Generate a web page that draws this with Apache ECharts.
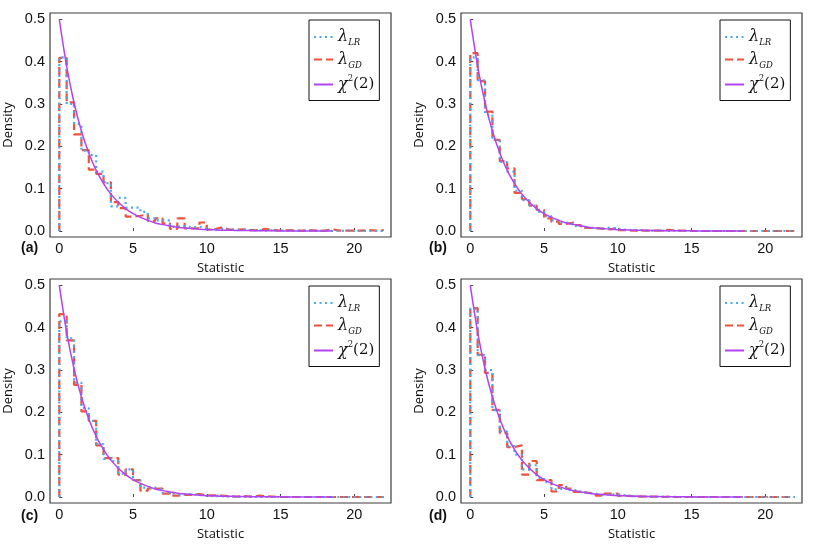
<!DOCTYPE html>
<html>
<head>
<meta charset="utf-8">
<script src="https://cdn.jsdelivr.net/npm/echarts@6/dist/echarts.min.js"></script>
<style>
html, body { margin: 0; padding: 0; background: #fff; }
#chart { width: 830px; height: 560px; }
</style>
</head>
<body>
<div id="chart"></div>
<script>
// histogram bins are 0.5 wide, starting at 0 (44 bins up to 22)
var binWidth = 0.5;
var xTicks = [0, 5, 10, 15, 20];
var yTicks = [0, 0.1, 0.2, 0.3, 0.4, 0.5];
var panelLabels = ["(a)", "(b)", "(c)", "(d)"];

// chi-square(2) density, sampled every 0.5 from 0 to 18.5
var chiDensity = [
    0.500, 0.389, 0.303, 0.236, 0.184, 0.143, 0.112, 0.087, 0.068, 0.053,
    0.041, 0.032, 0.025, 0.019, 0.015, 0.012, 0.009, 0.007, 0.006, 0.004,
    0.003, 0.003, 0.002, 0.002, 0.001, 0.001, 0.0008, 0.0006, 0.0005, 0.0004,
    0.0003, 0.0002, 0.0002, 0.0001, 0.0001, 0.0001, 0.0001, 0.0
];

var lrA = [
    0.410, 0.300, 0.253, 0.190, 0.180, 0.140, 0.113, 0.058, 0.078, 0.055,
    0.055, 0.045, 0.030, 0.025, 0.025, 0.010, 0.012, 0.008, 0.010, 0.006,
    0.002, 0.005, 0.004, 0.002, 0.003, 0.002, 0.002, 0.001, 0.002, 0.001,
    0.001, 0.001, 0.001, 0.001, 0.000, 0.001, 0.000, 0.000, 0.001, 0.000,
    0.000, 0.000, 0.000, 0.000
];
var gdA = [
    0.409, 0.304, 0.228, 0.191, 0.145, 0.135, 0.115, 0.068, 0.054, 0.034,
    0.036, 0.039, 0.024, 0.030, 0.018, 0.005, 0.030, 0.006, 0.006, 0.020,
    0.004, 0.008, 0.004, 0.003, 0.004, 0.002, 0.002, 0.005, 0.002, 0.001,
    0.002, 0.001, 0.001, 0.002, 0.001, 0.001, 0.004, 0.001, 0.001, 0.001,
    0.001, 0.002, 0.001, 0.002
];
var lrB = [
    0.410, 0.356, 0.275, 0.215, 0.163, 0.140, 0.095, 0.073, 0.060, 0.045,
    0.035, 0.025, 0.020, 0.017, 0.012, 0.008, 0.007, 0.006, 0.008, 0.005,
    0.003, 0.002, 0.002, 0.001, 0.001, 0.001, 0.000, 0.001, 0.000, 0.000,
    0.000, 0.000, 0.000, 0.000, 0.000, 0.000, 0.000, 0.000, 0.000, 0.000,
    0.000, 0.000, 0.000, 0.000
];
var gdB = [
    0.420, 0.354, 0.282, 0.215, 0.165, 0.148, 0.090, 0.075, 0.060, 0.050,
    0.030, 0.022, 0.017, 0.020, 0.014, 0.007, 0.007, 0.005, 0.004, 0.007,
    0.002, 0.001, 0.001, 0.001, 0.001, 0.001, 0.003, 0.001, 0.001, 0.000,
    0.000, 0.000, 0.000, 0.000, 0.000, 0.000, 0.000, 0.000, 0.000, 0.000,
    0.000, 0.000, 0.000, 0.000
];
var lrC = [
    0.415, 0.375, 0.270, 0.210, 0.180, 0.125, 0.090, 0.085, 0.055, 0.065,
    0.040, 0.022, 0.022, 0.018, 0.010, 0.006, 0.006, 0.006, 0.005, 0.003,
    0.002, 0.002, 0.001, 0.001, 0.000, 0.001, 0.000, 0.000, 0.000, 0.000,
    0.000, 0.000, 0.000, 0.000, 0.000, 0.000, 0.000, 0.000, 0.000, 0.000,
    0.000, 0.000, 0.000, 0.000
];
var gdC = [
    0.432, 0.370, 0.265, 0.202, 0.180, 0.122, 0.092, 0.092, 0.053, 0.065,
    0.040, 0.015, 0.020, 0.020, 0.008, 0.003, 0.005, 0.005, 0.007, 0.004,
    0.004, 0.003, 0.002, 0.001, 0.002, 0.001, 0.003, 0.002, 0.001, 0.000,
    0.000, 0.000, 0.000, 0.000, 0.000, 0.000, 0.000, 0.000, 0.000, 0.000,
    0.000, 0.000, 0.000, 0.000
];
var lrD = [
    0.445, 0.335, 0.300, 0.205, 0.155, 0.120, 0.100, 0.065, 0.075, 0.045,
    0.035, 0.018, 0.022, 0.017, 0.013, 0.010, 0.008, 0.005, 0.006, 0.006,
    0.004, 0.002, 0.001, 0.001, 0.000, 0.001, 0.000, 0.000, 0.000, 0.000,
    0.000, 0.000, 0.000, 0.000, 0.000, 0.000, 0.000, 0.000, 0.000, 0.000,
    0.000, 0.000, 0.000, 0.000
];
var gdD = [
    0.446, 0.336, 0.293, 0.206, 0.151, 0.118, 0.122, 0.053, 0.085, 0.040,
    0.040, 0.013, 0.028, 0.020, 0.012, 0.010, 0.008, 0.003, 0.008, 0.008,
    0.003, 0.002, 0.001, 0.001, 0.001, 0.000, 0.001, 0.000, 0.000, 0.000,
    0.000, 0.000, 0.000, 0.000, 0.000, 0.000, 0.000, 0.000, 0.000, 0.000,
    0.000, 0.000, 0.000, 0.000
];

var lrSets = [lrA, lrB, lrC, lrD];
var gdSets = [gdA, gdB, gdC, gdD];

var colLR = "#4aa9ee";
var colGD = "#ee533a";
var colChi = "#b243f2";

// step points at bin left edges, closed at the last right edge
var stepData = function(h) {
    var d = [[0, 0]];
    h.forEach(function(v, i) {
        d.push([i * binWidth, v]);
    });
    d.push([h.length * binWidth, h[h.length - 1]]);
    return d;
};
var chiData = chiDensity.map(function(v, i) {
    return [i * binWidth, v];
});

var panels = [
    { left: 50, top: 13, lx: 21, ly: 241 },
    { left: 461, top: 13, lx: 429, ly: 241 },
    { left: 50, top: 279, lx: 21, ly: 509 },
    { left: 461, top: 279, lx: 429, ly: 509 }
];

var tickFont = { fontFamily: "Liberation Sans", fontSize: 14.5, color: "#111" };
var nameFont = { fontFamily: "Open Sans", fontSize: 13, color: "#111" };

var grids = [], xAxes = [], yAxes = [], series = [], legends = [], titles = [];

panels.forEach(function(p, k) {
    grids.push({
        left: p.left,
        top: p.top,
        width: 341,
        height: 224,
        show: true,
        borderColor: "#3c3c3c",
        borderWidth: 1.2,
        backgroundColor: "transparent"
    });
    xAxes.push({
        type: "value",
        gridIndex: k,
        min: -0.63,
        max: 22.49,
        name: "Statistic",
        nameLocation: "middle",
        nameGap: 25,
        nameTextStyle: nameFont,
        axisLine: { show: false },
        splitLine: { show: false },
        axisTick: {
            show: true,
            inside: true,
            length: 3,
            customValues: xTicks,
            lineStyle: { color: "#444" }
        },
        axisLabel: Object.assign({ margin: 4, customValues: xTicks }, tickFont)
    });
    yAxes.push({
        type: "value",
        gridIndex: k,
        min: -0.0142,
        max: 0.5149,
        name: "Density",
        nameLocation: "middle",
        nameGap: 35,
        nameTextStyle: nameFont,
        axisLine: { show: false },
        splitLine: { show: false },
        axisTick: {
            show: true,
            inside: true,
            length: 3,
            customValues: yTicks,
            lineStyle: { color: "#444" }
        },
        axisLabel: Object.assign({
            margin: 5,
            customValues: yTicks,
            formatter: function(v) { return v.toFixed(1); }
        }, tickFont)
    });
    series.push({
        name: "GD",
        type: "line",
        xAxisIndex: k,
        yAxisIndex: k,
        step: "end",
        symbol: "none",
        data: stepData(gdSets[k]),
        lineStyle: { color: colGD, width: 2.2, type: [8, 4] },
        itemStyle: { color: colGD },
        z: 2
    });
    series.push({
        name: "LR",
        type: "line",
        xAxisIndex: k,
        yAxisIndex: k,
        step: "end",
        symbol: "none",
        data: stepData(lrSets[k]),
        lineStyle: { color: colLR, width: 2.2, type: [2, 3.5] },
        itemStyle: { color: colLR },
        z: 3
    });
    series.push({
        name: "chi",
        type: "line",
        xAxisIndex: k,
        yAxisIndex: k,
        smooth: 0.3,
        symbol: "none",
        data: chiData,
        lineStyle: { color: colChi, width: 1.5 },
        itemStyle: { color: colChi },
        z: 4
    });
    legends.push({
        data: ["LR", "GD", "chi"],
        orient: "vertical",
        left: p.left + 259,
        top: p.top + 7,
        itemWidth: 19,
        itemHeight: 12,
        itemGap: 4,
        padding: [9, 5, 8, 4],
        borderColor: "#111",
        borderWidth: 1,
        backgroundColor: "#fff",
        selectedMode: false,
        itemStyle: { opacity: 0 },
        formatter: function(name) {
            if (name === "LR") return "{g|λ}{s|LR}";
            if (name === "GD") return "{g|λ}{s|GD}";
            return "{g|χ}{p|2}{n|(2)}";
        },
        textStyle: {
            color: "#111",
            rich: {
                g: { fontFamily: "DejaVu Serif", fontStyle: "italic", fontSize: 16, lineHeight: 21 },
                s: { fontFamily: "DejaVu Serif", fontStyle: "italic", fontSize: 8.5, lineHeight: 10, verticalAlign: "bottom" },
                p: { fontFamily: "DejaVu Serif", fontSize: 8.5, lineHeight: 12, verticalAlign: "top" },
                n: { fontFamily: "DejaVu Serif", fontSize: 15, lineHeight: 21 }
            }
        }
    });
    titles.push({
        text: panelLabels[k],
        left: p.lx,
        top: p.ly,
        padding: 0,
        textStyle: { fontFamily: "Liberation Sans", fontSize: 14, fontWeight: "bold", color: "#111" }
    });
});

var chart = echarts.init(document.getElementById("chart"));
chart.setOption({
    animation: false,
    backgroundColor: "#fff",
    title: titles,
    legend: legends,
    grid: grids,
    xAxis: xAxes,
    yAxis: yAxes,
    series: series
});
</script>
</body>
</html>
